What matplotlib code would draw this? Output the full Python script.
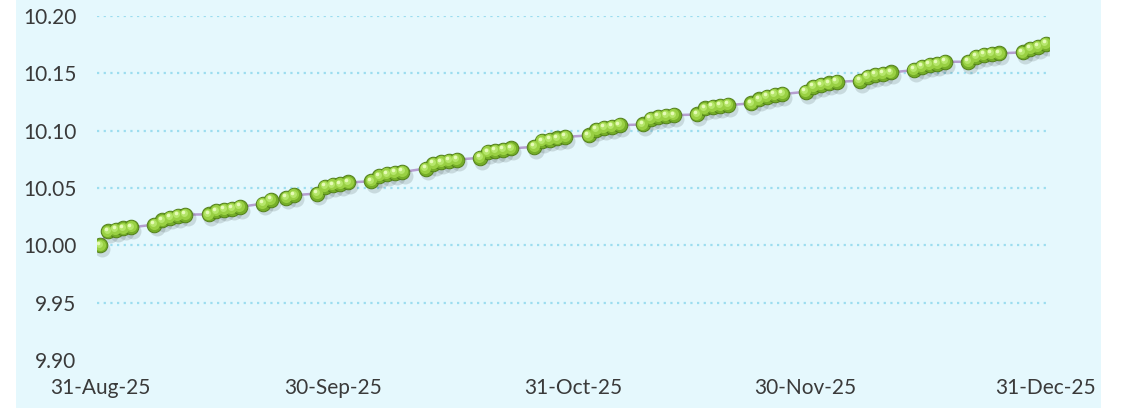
import matplotlib

matplotlib.use("Agg")
import matplotlib.dates as mdates
import matplotlib.pyplot as plt
import matplotlib.transforms as mtransforms
import numpy as np
import pandas as pd

# NAV series, Sun-Thu trading days
dates = [
    "2025-08-31",
    "2025-09-01", "2025-09-02", "2025-09-03", "2025-09-04",
    "2025-09-07", "2025-09-08", "2025-09-09", "2025-09-10", "2025-09-11",
    "2025-09-14", "2025-09-15", "2025-09-16", "2025-09-17", "2025-09-18",
    "2025-09-21", "2025-09-22", "2025-09-24", "2025-09-25",
    "2025-09-28", "2025-09-29", "2025-09-30", "2025-10-01", "2025-10-02",
    "2025-10-05", "2025-10-06", "2025-10-07", "2025-10-08", "2025-10-09",
    "2025-10-12", "2025-10-13", "2025-10-14", "2025-10-15", "2025-10-16",
    "2025-10-19", "2025-10-20", "2025-10-21", "2025-10-22", "2025-10-23",
    "2025-10-26", "2025-10-27", "2025-10-28", "2025-10-29", "2025-10-30",
    "2025-11-02", "2025-11-03", "2025-11-04", "2025-11-05", "2025-11-06",
    "2025-11-09", "2025-11-10", "2025-11-11", "2025-11-12", "2025-11-13",
    "2025-11-16", "2025-11-17", "2025-11-18", "2025-11-19", "2025-11-20",
    "2025-11-23", "2025-11-24", "2025-11-25", "2025-11-26", "2025-11-27",
    "2025-11-30", "2025-12-01", "2025-12-02", "2025-12-03", "2025-12-04",
    "2025-12-07", "2025-12-08", "2025-12-09", "2025-12-10", "2025-12-11",
    "2025-12-14", "2025-12-15", "2025-12-16", "2025-12-17", "2025-12-18",
    "2025-12-21", "2025-12-22", "2025-12-23", "2025-12-24", "2025-12-25",
    "2025-12-28", "2025-12-29", "2025-12-30", "2025-12-31",
]
nav = [
    10.0000,
    10.0122, 10.0135, 10.0148, 10.0157,
    10.0181, 10.0218, 10.0242, 10.0259, 10.0268,
    10.0270, 10.0297, 10.0312, 10.0321, 10.0335,
    10.0364, 10.0399, 10.0417, 10.0437,
    10.0452, 10.0509, 10.0524, 10.0533, 10.0548,
    10.0559, 10.0603, 10.0620, 10.0631, 10.0640,
    10.0670, 10.0712, 10.0725, 10.0737, 10.0748,
    10.0763, 10.0812, 10.0822, 10.0833, 10.0845,
    10.0859, 10.0908, 10.0922, 10.0932, 10.0946,
    10.0958, 10.1010, 10.1024, 10.1033, 10.1048,
    10.1054, 10.1106, 10.1120, 10.1127, 10.1135,
    10.1141, 10.1194, 10.1208, 10.1217, 10.1223,
    10.1238, 10.1272, 10.1295, 10.1310, 10.1319,
    10.1339, 10.1383, 10.1397, 10.1412, 10.1426,
    10.1435, 10.1470, 10.1485, 10.1494, 10.1508,
    10.1528, 10.1557, 10.1572, 10.1581, 10.1601,
    10.1601, 10.1645, 10.1659, 10.1668, 10.1674,
    10.1683, 10.1712, 10.1732, 10.1755,
]
x_ticks = ["2025-08-31", "2025-09-30", "2025-10-31", "2025-11-30", "2025-12-31"]
y_ticks = [9.90, 9.95, 10.00, 10.05, 10.10, 10.15, 10.20]

BG = "#E5F8FD"
GRID = "#9CDDEF"
TEXT = "#3A3A3A"

plt.rcParams["font.family"] = ["Lato", "DejaVu Sans"]

x = pd.to_datetime(dates)
y = np.asarray(nav)

fig = plt.figure(figsize=(11.22, 4.08), dpi=100)
fig.patch.set_facecolor("white")
bg = plt.Rectangle((16 / 1122, 0), (1101 - 16) / 1122, 1, transform=fig.transFigure,
                   facecolor=BG, edgecolor="none", zorder=-10)
fig.add_artist(bg)
ax = fig.add_axes([97 / 1122, 48 / 408, (1049 - 97) / 1122, 344 / 408])
ax.set_zorder(5)
ax.set_facecolor("none")

ax.plot(x, y, color="#B59ECF", lw=1.8, zorder=2)

# sphere-like markers: shadow, body, shading, highlight
shadow = mtransforms.offset_copy(ax.transData, fig=fig, x=1.5, y=-2.8, units="points")
ax.plot(x, y, ls="none", marker="o", ms=11.5, mfc=(0.2, 0.25, 0.25, 0.16), mec="none",
        transform=shadow, zorder=3)
ax.plot(x, y, ls="none", marker="o", ms=10.5, mfc="#75AE28", mec="#52801A", mew=0.7, zorder=4)
mid = mtransforms.offset_copy(ax.transData, fig=fig, x=-0.5, y=0.6, units="points")
ax.plot(x, y, ls="none", marker="o", ms=8, mfc="#99D043", mec="none", transform=mid, zorder=5)
mid2 = mtransforms.offset_copy(ax.transData, fig=fig, x=-1.0, y=1.2, units="points")
ax.plot(x, y, ls="none", marker="o", ms=5, mfc="#B5E66A", mec="none", transform=mid2, zorder=6)
hi = mtransforms.offset_copy(ax.transData, fig=fig, x=-1.5, y=1.9, units="points")
ax.plot(x, y, ls="none", marker="o", ms=2.6, mfc="#E6FBB8", mec="none", transform=hi, zorder=7)

ax.set_xlim(pd.Timestamp("2025-08-31") - pd.Timedelta(hours=10),
            pd.Timestamp("2025-12-31") + pd.Timedelta(hours=10))
ax.set_ylim(9.90, 10.20)
ax.set_yticks(y_ticks)
ax.set_yticklabels([f"{v:.2f}" for v in y_ticks])
ax.set_xticks(pd.to_datetime(x_ticks))
ax.xaxis.set_major_formatter(mdates.DateFormatter("%d-%b-%y"))

ax.grid(axis="y", color=GRID, ls=(0, (1, 2)), lw=1.6)
ax.get_ygridlines()[0].set_visible(False)
for s in ax.spines.values():
    s.set_visible(False)
ax.tick_params(axis="both", length=0, labelsize=15, colors=TEXT)
ax.tick_params(axis="y", pad=15)
ax.tick_params(axis="x", pad=13)

fig.savefig("out.png", dpi=100, facecolor=fig.get_facecolor())
